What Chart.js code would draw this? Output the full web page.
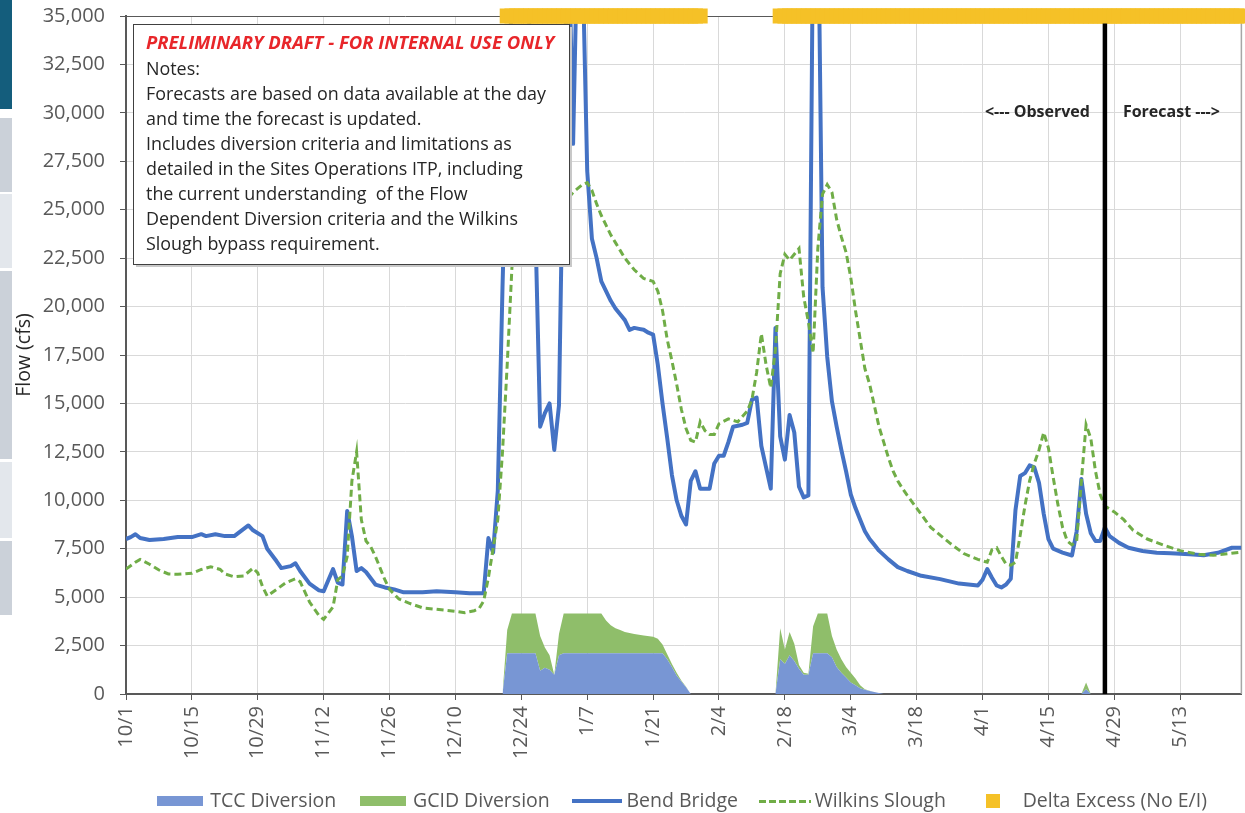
<!DOCTYPE html>
<html><head><meta charset="utf-8">
<script src="https://cdn.jsdelivr.net/npm/chart.js@4.4.1/dist/chart.umd.min.js"></script>
<style>
html,body{margin:0;padding:0;background:#fff;}
#wrap{position:relative;width:1245px;height:813px;overflow:hidden;background:#fff;}
#c{position:absolute;left:0;top:0;}
.strip{position:absolute;left:0;width:12px;}
</style></head><body>
<div id="wrap">
<canvas id="c" width="1252" height="813"></canvas>
<div class="strip" style="top:0;height:109px;background:#145d7c"></div>
<div class="strip" style="top:118px;height:74px;background:#cbd1d9"></div>
<div class="strip" style="top:194px;height:74px;background:#e3e7ec"></div>
<div class="strip" style="top:271px;height:188px;background:#cbd1d9"></div>
<div class="strip" style="top:462px;height:76px;background:#e3e7ec"></div>
<div class="strip" style="top:541px;height:74px;background:#cbd1d9"></div>
</div>
<script>
// ---------------- DATA ----------------
const xStart = "10/1";
const xEnd = "5/26";
const xTickLabels = ["10/1","10/15","10/29","11/12","11/26","12/10","12/24","1/7","1/21","2/4","2/18","3/4","3/18","4/1","4/15","4/29","5/13"];
const yMax = 35000;
const yStep = 2500;

const bendBridge = [
["10/1",8000],["10/2",8100],["10/3",8250],["10/4",8050],["10/6",7950],["10/9",8000],["10/12",8100],["10/15",8100],
["10/17",8250],["10/18",8150],["10/20",8250],["10/22",8150],["10/24",8150],["10/27",8700],["10/28",8450],["10/30",8150],
["10/31",7500],["11/2",6850],["11/3",6500],["11/5",6600],["11/6",6750],["11/7",6350],["11/9",5700],["11/11",5350],
["11/12",5300],["11/14",6450],["11/15",5750],["11/16",5650],["11/17",9450],["11/18",8150],["11/19",6350],["11/20",6500],
["11/21",6300],["11/23",5650],["11/25",5500],["11/27",5400],["11/29",5250],["12/3",5250],["12/6",5300],["12/10",5250],
["12/13",5200],["12/16",5200],["12/17",8050],["12/18",7300],["12/19",10500],["12/20",21000],["12/21",30000],["12/22",36000],
["12/23",37000],["12/24",36000],["12/25",36000],["12/26",34000],["12/27",24000],["12/28",13800],["12/29",14500],["12/30",15000],
["12/31",12600],["1/1",14900],["1/2",30000],["1/3",40000],["1/4",28400],["1/5",40000],["1/6",38000],["1/7",27000],
["1/8",23500],["1/9",22500],["1/10",21300],["1/11",20800],["1/12",20300],["1/13",19900],["1/14",19600],["1/15",19300],
["1/16",18800],["1/17",18900],["1/18",18850],["1/19",18800],["1/20",18650],["1/21",18550],["1/22",17000],["1/23",15000],
["1/24",13200],["1/25",11300],["1/26",10000],["1/27",9200],["1/28",8750],["1/29",11000],["1/30",11500],["1/31",10600],
["2/2",10600],["2/3",11900],["2/4",12300],["2/5",12300],["2/6",13000],["2/7",13800],["2/9",13900],["2/10",14000],
["2/11",15200],["2/12",15300],["2/13",12800],["2/14",11700],["2/15",10600],["2/16",18900],["2/17",13300],["2/18",12100],
["2/19",14400],["2/20",13500],["2/21",10700],["2/22",10150],["2/23",10250],["2/24",40000],["2/25",42000],["2/26",21000],
["2/27",17400],["2/28",15100],["3/1",13800],["3/2",12600],["3/3",11500],["3/4",10300],["3/5",9600],["3/6",9000],
["3/7",8400],["3/8",8000],["3/9",7700],["3/10",7400],["3/12",6950],["3/14",6550],["3/16",6350],["3/19",6100],
["3/23",5930],["3/27",5700],["3/31",5600],["4/1",5900],["4/2",6450],["4/3",6000],["4/4",5600],["4/5",5500],
["4/6",5650],["4/7",5950],["4/8",9500],["4/9",11250],["4/10",11400],["4/11",11800],["4/12",11700],["4/13",10900],
["4/14",9300],["4/15",8000],["4/16",7500],["4/18",7300],["4/20",7150],["4/21",8400],["4/22",11100],["4/23",9300],
["4/24",8300],["4/25",7900],["4/26",7900],["4/27",8600],["4/28",8150],["4/30",7800],["5/2",7550],["5/5",7380],
["5/8",7290],["5/11",7260],["5/15",7210],["5/18",7160],["5/21",7290],["5/24",7550],["5/26",7550]
];

const wilkinsSlough = [
["10/1",6450],["10/3",6800],["10/4",6950],["10/6",6700],["10/8",6400],["10/10",6200],["10/12",6180],["10/15",6230],
["10/17",6430],["10/19",6570],["10/21",6430],["10/22",6200],["10/24",6050],["10/26",6090],["10/28",6500],["10/29",6250],
["10/30",5550],["10/31",5060],["11/2",5400],["11/4",5750],["11/6",5950],["11/7",5800],["11/9",4750],["11/11",4050],
["11/12",3850],["11/14",4500],["11/15",5900],["11/16",6100],["11/17",7100],["11/18",11000],["11/19",12500],["11/20",9000],
["11/21",7900],["11/22",7600],["11/23",7100],["11/24",6500],["11/25",5900],["11/26",5400],["11/28",4900],["11/30",4700],
["12/3",4450],["12/6",4370],["12/10",4270],["12/12",4200],["12/14",4300],["12/15",4400],["12/16",4800],["12/17",6000],
["12/18",7500],["12/19",9000],["12/20",12500],["12/21",17000],["12/22",22000],["12/23",24000],["12/24",25000],["12/25",25200],
["12/26",25000],["12/27",24500],["12/28",24000],["12/29",23500],["12/30",23000],["12/31",22500],["1/1",22300],["1/2",24000],
["1/3",25600],["1/4",25900],["1/5",26100],["1/6",26300],["1/7",26400],["1/8",26000],["1/9",25300],["1/10",24700],
["1/11",24200],["1/12",23700],["1/13",23300],["1/14",22900],["1/15",22500],["1/16",22200],["1/17",21900],["1/19",21450],
["1/21",21300],["1/22",20800],["1/23",19800],["1/24",18300],["1/25",17200],["1/26",16000],["1/27",14700],["1/28",13700],
["1/29",13100],["1/30",13000],["1/31",14050],["2/1",13600],["2/2",13400],["2/3",13400],["2/4",13950],["2/6",14200],
["2/8",14050],["2/10",14600],["2/11",15200],["2/12",16600],["2/13",18600],["2/14",17000],["2/15",15800],["2/16",17800],
["2/17",21700],["2/18",22700],["2/19",22400],["2/20",22700],["2/21",23000],["2/22",20500],["2/23",19200],["2/24",17600],
["2/25",23000],["2/26",25800],["2/27",26300],["2/28",25900],["3/1",24500],["3/2",23600],["3/3",22800],["3/4",21500],
["3/5",19800],["3/6",18300],["3/7",16800],["3/8",16000],["3/9",14900],["3/10",13800],["3/11",13000],["3/12",12200],
["3/13",11500],["3/14",11000],["3/15",10600],["3/16",10250],["3/18",9600],["3/21",8600],["3/25",7800],["3/28",7250],
["3/31",6950],["4/2",6800],["4/3",7450],["4/4",7550],["4/5",7100],["4/6",6700],["4/7",6650],["4/8",6800],
["4/9",8200],["4/10",9700],["4/11",11000],["4/12",11900],["4/13",12600],["4/14",13500],["4/15",12700],["4/16",11200],
["4/17",9800],["4/18",8600],["4/19",7900],["4/20",7700],["4/21",7900],["4/22",11000],["4/23",13900],["4/24",13200],
["4/25",11500],["4/26",10300],["4/27",9700],["4/29",9400],["5/1",9000],["5/3",8450],["5/6",8000],["5/10",7640],
["5/13",7400],["5/17",7210],["5/20",7160],["5/23",7240],["5/26",7330]
];

const diversionDates = ["12/20","12/21","12/22","12/27","12/28","12/29","12/30","12/31","1/1","1/2","1/10","1/11","1/12","1/13",
"1/14","1/15","1/17","1/19","1/21","1/22","1/23","1/24","1/25","1/26","1/27","1/28","1/29",
"2/16","2/17","2/18","2/19","2/20","2/21","2/22","2/23","2/24","2/25","2/27","2/28","3/1","3/2","3/3","3/4","3/5","3/6",
"3/7","3/8","3/9","3/10","3/11","4/22","4/23","4/24"];
const tccDiversion = [0,2100,2100,2100,1200,1350,1250,1000,2000,2100,2100,2100,2100,2100,
2100,2100,2100,2100,2100,2100,2100,1800,1400,950,650,350,0,
0,1800,1550,2000,1700,1300,1000,1000,2100,2100,2100,1900,1400,1100,850,600,450,300,
220,150,100,50,0,0,250,0];
const gcidDiversion = [0,1200,2050,2050,1800,1050,750,0,1100,2050,2050,1700,1450,1300,
1200,1100,1000,920,850,750,450,250,150,150,50,30,0,
0,1600,750,1200,900,200,100,50,1400,2050,2050,1100,900,700,550,500,350,150,
30,20,0,0,0,0,350,0];

const deltaExcessPeriods = [["12/21","1/31"],["2/17","5/26"]];
const deltaExcessLevel = 35000;
const forecastStart = "4/27";

const noteTitle = "PRELIMINARY DRAFT - FOR INTERNAL USE ONLY";
const noteLines = ["Notes:",
"Forecasts are based on data available at the day",
"and time the forecast is updated.",
"Includes diversion criteria and limitations as",
"detailed in the Sites Operations ITP, including",
"the current understanding  of the Flow",
"Dependent Diversion criteria and the Wilkins",
"Slough bypass requirement."];
const observedLabel = "<--- Observed";
const forecastLabel = "Forecast --->";

// ---------------- HELPERS ----------------
function dayOf(md){
  const [m,d] = md.split('/').map(Number);
  const y = m >= 10 ? 2022 : 2023;
  return Math.round((Date.UTC(y,m-1,d) - Date.UTC(2022,9,1)) / 86400000);
}
const toPts = arr => arr.map(([d,v]) => ({x: dayOf(d), y: v}));
const deltaPts = [];
deltaExcessPeriods.forEach(([a,b]) => { for (let d = dayOf(a); d <= dayOf(b); d++) deltaPts.push({x: d, y: deltaExcessLevel}); });

const C_TCC = '#7896d4', C_GCID = '#8fbe6a', C_BB = '#4472c4', C_WS = '#70ad47', C_DE = '#f5c127';
const FONT = 'Open Sans';

function sym(w,h,draw){ const c = document.createElement('canvas'); c.width = w; c.height = h; draw(c.getContext('2d'), w, h); return c; }
const legendSyms = [
  sym(46,10,(g,w,h)=>{g.fillStyle=C_TCC;g.fillRect(0,0,w,h);}),
  sym(46,10,(g,w,h)=>{g.fillStyle=C_GCID;g.fillRect(0,0,w,h);}),
  sym(50,4,(g,w,h)=>{g.fillStyle=C_BB;g.fillRect(0,0,w,h);}),
  sym(52,3,(g,w,h)=>{g.fillStyle=C_WS;for(let x=0;x<w;x+=10)g.fillRect(x,0,7,h);}),
  sym(14,14,(g,w,h)=>{g.fillStyle=C_DE;g.fillRect(0,0,w,h);})
];

const decor = {
  id: 'decor',
  beforeDatasetsDraw(chart){
    const {ctx, chartArea:a} = chart;
    ctx.save();
    ctx.strokeStyle = '#a6a6a6'; ctx.lineWidth = 1.5;
    ctx.beginPath(); ctx.moveTo(a.right, a.top); ctx.lineTo(a.right, a.bottom); ctx.stroke();
    ctx.restore();
  },
  afterDatasetsDraw(chart){
    const {ctx, chartArea:a, scales:{x,y}} = chart;
    const fx = x.getPixelForValue(dayOf(forecastStart));
    ctx.save();
    ctx.strokeStyle = '#000'; ctx.lineWidth = 4.5;
    ctx.beginPath(); ctx.moveTo(fx, y.getPixelForValue(yMax) + 7.5); ctx.lineTo(fx, a.bottom); ctx.stroke();
    ctx.fillStyle = '#262626';
    ctx.font = 'bold 16px "' + FONT + '"';
    ctx.textBaseline = 'middle';
    const ty = y.getPixelForValue(30000);
    ctx.textAlign = 'right'; ctx.fillText(observedLabel, fx - 15, ty);
    ctx.textAlign = 'left'; ctx.fillText(forecastLabel, fx + 18, ty);
    ctx.restore();
  },
  afterDraw(chart){
    const {ctx, chartArea:a} = chart;
    const L = a.left + 7, T = a.top + 8, W = 436, H = 240;
    ctx.save();
    ctx.fillStyle = '#c8c8c8'; ctx.fillRect(L + 3, T + 3, W, H);
    ctx.fillStyle = '#fff'; ctx.fillRect(L, T, W, H);
    ctx.strokeStyle = '#404040'; ctx.lineWidth = 1; ctx.strokeRect(L + 0.5, T + 0.5, W, H);
    ctx.textBaseline = 'middle'; ctx.textAlign = 'left';
    ctx.fillStyle = '#e8262a';
    ctx.font = 'italic bold 18.5px "' + FONT + '"';
    ctx.fillText(noteTitle, L + 13, T + 20);
    ctx.fillStyle = '#262626';
    ctx.font = '17.9px "' + FONT + '"';
    noteLines.forEach((s,i) => ctx.fillText(s, L + 13, T + 46 + i * 25));
    ctx.restore();
  }
};

Chart.register(decor);

new Chart(document.getElementById('c'), {
  type: 'line',
  data: {
    datasets: [
      {label:'TCC Diversion', data: diversionDates.map((d,i)=>({x:dayOf(d), y:tccDiversion[i]})),
       backgroundColor: C_TCC, borderColor: C_TCC, borderWidth: 0, pointRadius: 0, fill: 'origin', stack: 'div', order: 3},
      {label:'GCID Diversion', data: diversionDates.map((d,i)=>({x:dayOf(d), y:gcidDiversion[i]})),
       backgroundColor: C_GCID, borderColor: C_GCID, borderWidth: 0, pointRadius: 0, fill: '-1', stack: 'div', order: 4},
      {label:'Bend Bridge', data: toPts(bendBridge), borderColor: C_BB, borderWidth: 4, pointRadius: 0, fill: false,
       stack: 'bb', order: 2, borderJoinStyle: 'round'},
      {label:'Wilkins Slough', data: toPts(wilkinsSlough), borderColor: C_WS, borderWidth: 3, borderDash: [7,4],
       pointRadius: 0, fill: false, stack: 'ws', order: 1},
      {label:'Delta Excess (No E/I)', data: deltaPts, showLine: false, pointStyle: 'rect', pointRadius: 10.61,
       pointBackgroundColor: C_DE, pointBorderWidth: 0, pointBorderColor: C_DE, backgroundColor: C_DE, borderColor: C_DE,
       stack: 'de', order: 0, clip: false}
    ]
  },
  options: {
    responsive: false, animation: false, events: [],
    layout: {padding: {left: 0, right: 4, top: 16, bottom: -7.75}},
    scales: {
      x: {
        type: 'linear', min: dayOf(xStart), max: dayOf(xEnd),
        afterBuildTicks: s => { s.ticks = xTickLabels.map(l => ({value: dayOf(l)})); },
        afterFit: s => { s.height = 70.25; s.paddingLeft = 0; s.paddingRight = 0; s.paddingTop = 0; s.paddingBottom = 0; },
        ticks: {autoSkip: false, minRotation: 90, maxRotation: 90, padding: 6, color: '#595959',
                font: {family: FONT, size: 20}, callback: (v, i) => xTickLabels[i]},
        grid: {color: '#d9d9d9', tickColor: '#595959', tickLength: 6, lineWidth: 1},
        border: {color: '#595959', width: 2}
      },
      y: {
        min: 0, max: yMax, stacked: true,
        afterFit: s => { s.width = 126; s.paddingTop = 0; s.paddingBottom = 0; s.paddingLeft = 0; s.paddingRight = 0; },
        ticks: {stepSize: yStep, padding: 15, color: '#595959', font: {family: FONT, size: 20},
                callback: v => v.toLocaleString('en-US')},
        grid: {color: c => (c.tick && c.tick.value === yMax) ? '#595959' : '#d9d9d9', tickColor: '#595959', tickLength: 6},
        border: {color: '#595959', width: 2},
        title: {display: true, text: 'Flow (cfs)', color: '#262626', font: {family: FONT, size: 19.5}, padding: {top: 13, bottom: 0}}
      }
    },
    plugins: {
      tooltip: {enabled: false},
      legend: {
        position: 'bottom', fullSize: false,
        labels: {
          usePointStyle: true, pointStyleWidth: 40, padding: 27, color: '#595959',
          font: {family: FONT, size: 19.5},
          generateLabels: chart => chart.data.datasets.map((ds, i) => ({
            text: ds.label, pointStyle: legendSyms[i], fillStyle: 'transparent', strokeStyle: 'transparent',
            lineWidth: 0, hidden: false, datasetIndex: i, fontColor: '#595959'
          }))
        }
      }
    }
  }
});
</script>
</body></html>
